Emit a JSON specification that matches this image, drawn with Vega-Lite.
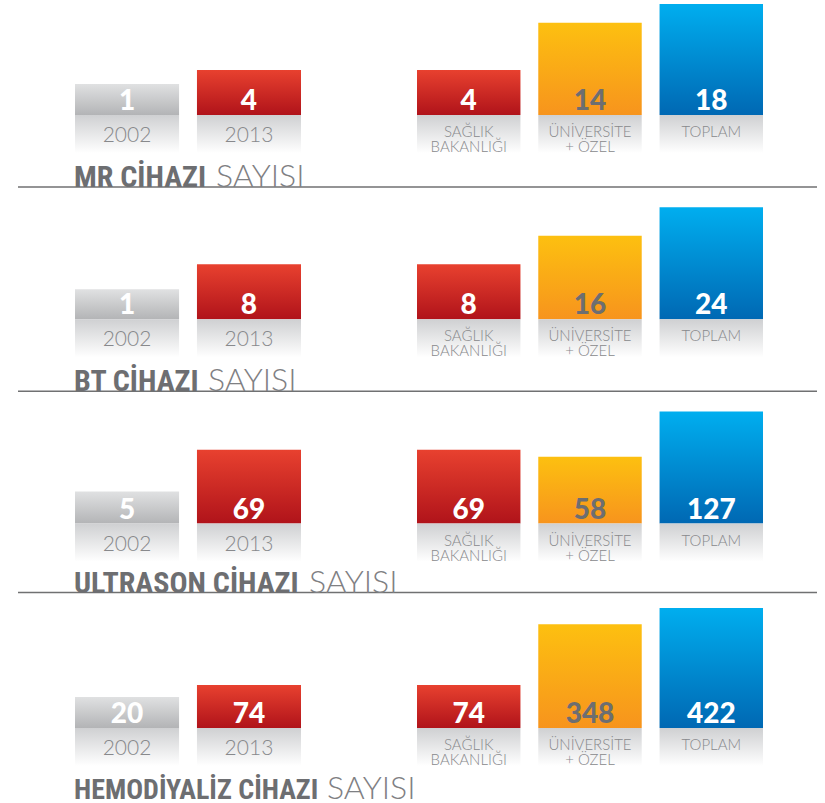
{
  "$schema": "https://vega.github.io/schema/vega-lite/v6.json",
  "padding": {"left": 17, "top": 0, "right": 0, "bottom": 0},
  "background": "white",
  "config": {"view": {"stroke": null}, "axis": {"disable": true}, "legend": {"disable": true}},
  "datasets": {
    "veri": [
      {"cihaz": "MR", "grup": "yil", "kategori": "2002", "deger": 1},
      {"cihaz": "MR", "grup": "yil", "kategori": "2013", "deger": 4},
      {"cihaz": "MR", "grup": "dagilim", "kategori": "SAĞLIK\nBAKANLIĞI", "deger": 4},
      {"cihaz": "MR", "grup": "dagilim", "kategori": "ÜNİVERSİTE\n+ ÖZEL", "deger": 14},
      {"cihaz": "MR", "grup": "dagilim", "kategori": "TOPLAM", "deger": 18},
      {"cihaz": "BT", "grup": "yil", "kategori": "2002", "deger": 1},
      {"cihaz": "BT", "grup": "yil", "kategori": "2013", "deger": 8},
      {"cihaz": "BT", "grup": "dagilim", "kategori": "SAĞLIK\nBAKANLIĞI", "deger": 8},
      {"cihaz": "BT", "grup": "dagilim", "kategori": "ÜNİVERSİTE\n+ ÖZEL", "deger": 16},
      {"cihaz": "BT", "grup": "dagilim", "kategori": "TOPLAM", "deger": 24},
      {"cihaz": "ULTRASON", "grup": "yil", "kategori": "2002", "deger": 5},
      {"cihaz": "ULTRASON", "grup": "yil", "kategori": "2013", "deger": 69},
      {"cihaz": "ULTRASON", "grup": "dagilim", "kategori": "SAĞLIK\nBAKANLIĞI", "deger": 69},
      {"cihaz": "ULTRASON", "grup": "dagilim", "kategori": "ÜNİVERSİTE\n+ ÖZEL", "deger": 58},
      {"cihaz": "ULTRASON", "grup": "dagilim", "kategori": "TOPLAM", "deger": 127},
      {"cihaz": "HEMODIYALIZ", "grup": "yil", "kategori": "2002", "deger": 20},
      {"cihaz": "HEMODIYALIZ", "grup": "yil", "kategori": "2013", "deger": 74},
      {"cihaz": "HEMODIYALIZ", "grup": "dagilim", "kategori": "SAĞLIK\nBAKANLIĞI", "deger": 74},
      {"cihaz": "HEMODIYALIZ", "grup": "dagilim", "kategori": "ÜNİVERSİTE\n+ ÖZEL", "deger": 348},
      {"cihaz": "HEMODIYALIZ", "grup": "dagilim", "kategori": "TOPLAM", "deger": 422}
    ]
  },
  "spacing": 89.3,
  "bounds": "flush",
  "vconcat": [
    {
      "width": 799, "height": 115,
      "data": {"name": "veri"},
      "transform": [{"filter": "datum.cihaz === 'MR'"}],
      "resolve": {"scale": {"x": "independent"}},
      "layer": [
        {"transform": [{"filter": "datum.kategori === '2002'"}], "mark": {"type": "rule", "color": "#707172", "strokeWidth": 1.5, "yOffset": 72}, "encoding": {"y": {"datum": -5.59}}},
        {
          "transform": [{"filter": "datum.grup === 'yil'"}],
          "encoding": {"x": {"field": "kategori", "type": "nominal", "sort": null, "axis": null, "scale": {"domain": ["2002", "2013"], "range": [57, 283], "paddingInner": 0.147, "paddingOuter": 0}}},
          "layer": [
            {"transform": [{"filter": "datum.kategori === '2002'"}], "mark": {"type": "bar", "color": {"gradient": "linear", "x1": 0, "y1": 0, "x2": 0, "y2": 1, "stops": [{"offset": 0, "color": "#e0e1e2"}, {"offset": 1, "color": "#b3b4b6"}]}}, "encoding": {"y": {"field": "deger", "type": "quantitative", "axis": null, "scale": {"domain": [-5.59, 18.85], "nice": false, "zero": false}}, "y2": {"datum": -5.59}}},
            {"transform": [{"filter": "datum.kategori === '2013'"}], "mark": {"type": "bar", "color": {"gradient": "linear", "x1": 0, "y1": 0, "x2": 0, "y2": 1, "stops": [{"offset": 0, "color": "#e8412f"}, {"offset": 1, "color": "#b0131a"}]}}, "encoding": {"y": {"field": "deger", "type": "quantitative", "axis": null, "scale": {"domain": [-5.59, 18.85], "nice": false, "zero": false}}, "y2": {"datum": -5.59}}},
            {"mark": {"type": "rect", "y2Offset": 38, "color": {"gradient": "linear", "x1": 0, "y1": 0, "x2": 0, "y2": 1, "stops": [{"offset": 0, "color": "#cfd0d2"}, {"offset": 1, "color": "#ffffff"}]}}, "encoding": {"y": {"datum": -5.59}, "y2": {"datum": -5.59}}},
            {"mark": {"type": "text", "font": "Lato", "fontWeight": 900, "fontSize": 28, "color": "#ffffff", "dy": -5, "baseline": "alphabetic", "align": "center"}, "encoding": {"y": {"datum": -5.59}, "text": {"field": "deger", "type": "quantitative"}}},
            {"mark": {"type": "text", "font": "Lato", "fontWeight": 300, "fontSize": 21, "color": "#88898c", "dy": 27, "baseline": "alphabetic", "align": "center"}, "encoding": {"y": {"datum": -5.59}, "text": {"field": "kategori"}}},
            {"transform": [{"filter": "datum.kategori === '2002'"}], "mark": {"type": "text", "text": "MR CİHAZI", "font": "Roboto Condensed, Liberation Sans", "fontWeight": "bold", "fontSize": 30, "color": "#6d6e71", "dy": 72, "dx": -1, "baseline": "alphabetic", "align": "left"}, "encoding": {"x": {"datum": "2002", "bandPosition": 0}, "y": {"datum": -5.59}}},
            {"transform": [{"filter": "datum.kategori === '2002'"}], "mark": {"type": "text", "text": "SAYISI", "font": "Lato", "fontWeight": 300, "fontSize": 32, "color": "#7f8083", "dy": 72, "dx": 141, "baseline": "alphabetic", "align": "left"}, "encoding": {"x": {"datum": "2002", "bandPosition": 0}, "y": {"datum": -5.59}}}
          ]
        },
        {
          "transform": [{"filter": "datum.grup === 'dagilim'"}],
          "encoding": {"x": {"field": "kategori", "type": "nominal", "sort": null, "axis": null, "scale": {"domain": ["SAĞLIK\nBAKANLIĞI", "ÜNİVERSİTE\n+ ÖZEL", "TOPLAM"], "range": [399, 745], "paddingInner": 0.147, "paddingOuter": 0}}},
          "layer": [
            {"transform": [{"filter": "indexof(datum.kategori, 'SA') === 0"}], "mark": {"type": "bar", "color": {"gradient": "linear", "x1": 0, "y1": 0, "x2": 0, "y2": 1, "stops": [{"offset": 0, "color": "#e8412f"}, {"offset": 1, "color": "#b0131a"}]}}, "encoding": {"y": {"field": "deger", "type": "quantitative", "axis": null, "scale": {"domain": [-5.59, 18.85], "nice": false, "zero": false}}, "y2": {"datum": -5.59}}},
            {"transform": [{"filter": "indexof(datum.kategori, 'Ü') === 0"}], "mark": {"type": "bar", "color": {"gradient": "linear", "x1": 0, "y1": 0, "x2": 0, "y2": 1, "stops": [{"offset": 0, "color": "#fdc010"}, {"offset": 1, "color": "#f7941d"}]}}, "encoding": {"y": {"field": "deger", "type": "quantitative", "axis": null, "scale": {"domain": [-5.59, 18.85], "nice": false, "zero": false}}, "y2": {"datum": -5.59}}},
            {"transform": [{"filter": "datum.kategori === 'TOPLAM'"}], "mark": {"type": "bar", "color": {"gradient": "linear", "x1": 0, "y1": 0, "x2": 0, "y2": 1, "stops": [{"offset": 0, "color": "#00aeef"}, {"offset": 1, "color": "#0068b3"}]}}, "encoding": {"y": {"field": "deger", "type": "quantitative", "axis": null, "scale": {"domain": [-5.59, 18.85], "nice": false, "zero": false}}, "y2": {"datum": -5.59}}},
            {"mark": {"type": "rect", "y2Offset": 38, "color": {"gradient": "linear", "x1": 0, "y1": 0, "x2": 0, "y2": 1, "stops": [{"offset": 0, "color": "#cfd0d2"}, {"offset": 1, "color": "#ffffff"}]}}, "encoding": {"y": {"datum": -5.59}, "y2": {"datum": -5.59}}},
            {"transform": [{"filter": "indexof(datum.kategori, 'Ü') !== 0"}], "mark": {"type": "text", "font": "Lato", "fontWeight": 900, "fontSize": 28, "color": "#ffffff", "dy": -5, "baseline": "alphabetic", "align": "center"}, "encoding": {"y": {"datum": -5.59}, "text": {"field": "deger", "type": "quantitative"}}},
            {"transform": [{"filter": "indexof(datum.kategori, 'Ü') === 0"}], "mark": {"type": "text", "font": "Lato", "fontWeight": 900, "fontSize": 28, "color": "#6d6e71", "dy": -5, "baseline": "alphabetic", "align": "center"}, "encoding": {"y": {"datum": -5.59}, "text": {"field": "deger", "type": "quantitative"}}},
            {"mark": {"type": "text", "font": "Lato", "fontWeight": 300, "fontSize": 15, "lineHeight": 15, "lineBreak": "\n", "color": "#88898c", "dy": 22, "baseline": "alphabetic", "align": "center"}, "encoding": {"y": {"datum": -5.59}, "text": {"field": "kategori"}}}
          ]
        }
      ]
    },
    {
      "width": 799, "height": 115,
      "data": {"name": "veri"},
      "transform": [{"filter": "datum.cihaz === 'BT'"}],
      "resolve": {"scale": {"x": "independent"}},
      "layer": [
        {"transform": [{"filter": "datum.kategori === '2002'"}], "mark": {"type": "rule", "color": "#707172", "strokeWidth": 1.5, "yOffset": 72}, "encoding": {"y": {"datum": -7.41}}},
        {
          "transform": [{"filter": "datum.grup === 'yil'"}],
          "encoding": {"x": {"field": "kategori", "type": "nominal", "sort": null, "axis": null, "scale": {"domain": ["2002", "2013"], "range": [57, 283], "paddingInner": 0.147, "paddingOuter": 0}}},
          "layer": [
            {"transform": [{"filter": "datum.kategori === '2002'"}], "mark": {"type": "bar", "color": {"gradient": "linear", "x1": 0, "y1": 0, "x2": 0, "y2": 1, "stops": [{"offset": 0, "color": "#e0e1e2"}, {"offset": 1, "color": "#b3b4b6"}]}}, "encoding": {"y": {"field": "deger", "type": "quantitative", "axis": null, "scale": {"domain": [-7.41, 24.85], "nice": false, "zero": false}}, "y2": {"datum": -7.41}}},
            {"transform": [{"filter": "datum.kategori === '2013'"}], "mark": {"type": "bar", "color": {"gradient": "linear", "x1": 0, "y1": 0, "x2": 0, "y2": 1, "stops": [{"offset": 0, "color": "#e8412f"}, {"offset": 1, "color": "#b0131a"}]}}, "encoding": {"y": {"field": "deger", "type": "quantitative", "axis": null, "scale": {"domain": [-7.41, 24.85], "nice": false, "zero": false}}, "y2": {"datum": -7.41}}},
            {"mark": {"type": "rect", "y2Offset": 38, "color": {"gradient": "linear", "x1": 0, "y1": 0, "x2": 0, "y2": 1, "stops": [{"offset": 0, "color": "#cfd0d2"}, {"offset": 1, "color": "#ffffff"}]}}, "encoding": {"y": {"datum": -7.41}, "y2": {"datum": -7.41}}},
            {"mark": {"type": "text", "font": "Lato", "fontWeight": 900, "fontSize": 28, "color": "#ffffff", "dy": -5, "baseline": "alphabetic", "align": "center"}, "encoding": {"y": {"datum": -7.41}, "text": {"field": "deger", "type": "quantitative"}}},
            {"mark": {"type": "text", "font": "Lato", "fontWeight": 300, "fontSize": 21, "color": "#88898c", "dy": 27, "baseline": "alphabetic", "align": "center"}, "encoding": {"y": {"datum": -7.41}, "text": {"field": "kategori"}}},
            {"transform": [{"filter": "datum.kategori === '2002'"}], "mark": {"type": "text", "text": "BT CİHAZI", "font": "Roboto Condensed, Liberation Sans", "fontWeight": "bold", "fontSize": 30, "color": "#6d6e71", "dy": 72, "dx": -1, "baseline": "alphabetic", "align": "left"}, "encoding": {"x": {"datum": "2002", "bandPosition": 0}, "y": {"datum": -7.41}}},
            {"transform": [{"filter": "datum.kategori === '2002'"}], "mark": {"type": "text", "text": "SAYISI", "font": "Lato", "fontWeight": 300, "fontSize": 32, "color": "#7f8083", "dy": 72, "dx": 133, "baseline": "alphabetic", "align": "left"}, "encoding": {"x": {"datum": "2002", "bandPosition": 0}, "y": {"datum": -7.41}}}
          ]
        },
        {
          "transform": [{"filter": "datum.grup === 'dagilim'"}],
          "encoding": {"x": {"field": "kategori", "type": "nominal", "sort": null, "axis": null, "scale": {"domain": ["SAĞLIK\nBAKANLIĞI", "ÜNİVERSİTE\n+ ÖZEL", "TOPLAM"], "range": [399, 745], "paddingInner": 0.147, "paddingOuter": 0}}},
          "layer": [
            {"transform": [{"filter": "indexof(datum.kategori, 'SA') === 0"}], "mark": {"type": "bar", "color": {"gradient": "linear", "x1": 0, "y1": 0, "x2": 0, "y2": 1, "stops": [{"offset": 0, "color": "#e8412f"}, {"offset": 1, "color": "#b0131a"}]}}, "encoding": {"y": {"field": "deger", "type": "quantitative", "axis": null, "scale": {"domain": [-7.41, 24.85], "nice": false, "zero": false}}, "y2": {"datum": -7.41}}},
            {"transform": [{"filter": "indexof(datum.kategori, 'Ü') === 0"}], "mark": {"type": "bar", "color": {"gradient": "linear", "x1": 0, "y1": 0, "x2": 0, "y2": 1, "stops": [{"offset": 0, "color": "#fdc010"}, {"offset": 1, "color": "#f7941d"}]}}, "encoding": {"y": {"field": "deger", "type": "quantitative", "axis": null, "scale": {"domain": [-7.41, 24.85], "nice": false, "zero": false}}, "y2": {"datum": -7.41}}},
            {"transform": [{"filter": "datum.kategori === 'TOPLAM'"}], "mark": {"type": "bar", "color": {"gradient": "linear", "x1": 0, "y1": 0, "x2": 0, "y2": 1, "stops": [{"offset": 0, "color": "#00aeef"}, {"offset": 1, "color": "#0068b3"}]}}, "encoding": {"y": {"field": "deger", "type": "quantitative", "axis": null, "scale": {"domain": [-7.41, 24.85], "nice": false, "zero": false}}, "y2": {"datum": -7.41}}},
            {"mark": {"type": "rect", "y2Offset": 38, "color": {"gradient": "linear", "x1": 0, "y1": 0, "x2": 0, "y2": 1, "stops": [{"offset": 0, "color": "#cfd0d2"}, {"offset": 1, "color": "#ffffff"}]}}, "encoding": {"y": {"datum": -7.41}, "y2": {"datum": -7.41}}},
            {"transform": [{"filter": "indexof(datum.kategori, 'Ü') !== 0"}], "mark": {"type": "text", "font": "Lato", "fontWeight": 900, "fontSize": 28, "color": "#ffffff", "dy": -5, "baseline": "alphabetic", "align": "center"}, "encoding": {"y": {"datum": -7.41}, "text": {"field": "deger", "type": "quantitative"}}},
            {"transform": [{"filter": "indexof(datum.kategori, 'Ü') === 0"}], "mark": {"type": "text", "font": "Lato", "fontWeight": 900, "fontSize": 28, "color": "#6d6e71", "dy": -5, "baseline": "alphabetic", "align": "center"}, "encoding": {"y": {"datum": -7.41}, "text": {"field": "deger", "type": "quantitative"}}},
            {"mark": {"type": "text", "font": "Lato", "fontWeight": 300, "fontSize": 15, "lineHeight": 15, "lineBreak": "\n", "color": "#88898c", "dy": 22, "baseline": "alphabetic", "align": "center"}, "encoding": {"y": {"datum": -7.41}, "text": {"field": "kategori"}}}
          ]
        }
      ]
    },
    {
      "width": 799, "height": 115,
      "data": {"name": "veri"},
      "transform": [{"filter": "datum.cihaz === 'ULTRASON'"}],
      "resolve": {"scale": {"x": "independent"}},
      "layer": [
        {"transform": [{"filter": "datum.kategori === '2002'"}], "mark": {"type": "rule", "color": "#707172", "strokeWidth": 1.5, "yOffset": 69}, "encoding": {"y": {"datum": -43.8}}},
        {
          "transform": [{"filter": "datum.grup === 'yil'"}],
          "encoding": {"x": {"field": "kategori", "type": "nominal", "sort": null, "axis": null, "scale": {"domain": ["2002", "2013"], "range": [57, 283], "paddingInner": 0.147, "paddingOuter": 0}}},
          "layer": [
            {"transform": [{"filter": "datum.kategori === '2002'"}], "mark": {"type": "bar", "color": {"gradient": "linear", "x1": 0, "y1": 0, "x2": 0, "y2": 1, "stops": [{"offset": 0, "color": "#e0e1e2"}, {"offset": 1, "color": "#b3b4b6"}]}}, "encoding": {"y": {"field": "deger", "type": "quantitative", "axis": null, "scale": {"domain": [-43.8, 131.6], "nice": false, "zero": false}}, "y2": {"datum": -43.8}}},
            {"transform": [{"filter": "datum.kategori === '2013'"}], "mark": {"type": "bar", "color": {"gradient": "linear", "x1": 0, "y1": 0, "x2": 0, "y2": 1, "stops": [{"offset": 0, "color": "#e8412f"}, {"offset": 1, "color": "#b0131a"}]}}, "encoding": {"y": {"field": "deger", "type": "quantitative", "axis": null, "scale": {"domain": [-43.8, 131.6], "nice": false, "zero": false}}, "y2": {"datum": -43.8}}},
            {"mark": {"type": "rect", "y2Offset": 38, "color": {"gradient": "linear", "x1": 0, "y1": 0, "x2": 0, "y2": 1, "stops": [{"offset": 0, "color": "#cfd0d2"}, {"offset": 1, "color": "#ffffff"}]}}, "encoding": {"y": {"datum": -43.8}, "y2": {"datum": -43.8}}},
            {"mark": {"type": "text", "font": "Lato", "fontWeight": 900, "fontSize": 28, "color": "#ffffff", "dy": -5, "baseline": "alphabetic", "align": "center"}, "encoding": {"y": {"datum": -43.8}, "text": {"field": "deger", "type": "quantitative"}}},
            {"mark": {"type": "text", "font": "Lato", "fontWeight": 300, "fontSize": 21, "color": "#88898c", "dy": 27, "baseline": "alphabetic", "align": "center"}, "encoding": {"y": {"datum": -43.8}, "text": {"field": "kategori"}}},
            {"transform": [{"filter": "datum.kategori === '2002'"}], "mark": {"type": "text", "text": "ULTRASON CİHAZI", "font": "Roboto Condensed, Liberation Sans", "fontWeight": "bold", "fontSize": 30, "color": "#6d6e71", "dy": 69, "dx": -1, "baseline": "alphabetic", "align": "left"}, "encoding": {"x": {"datum": "2002", "bandPosition": 0}, "y": {"datum": -43.8}}},
            {"transform": [{"filter": "datum.kategori === '2002'"}], "mark": {"type": "text", "text": "SAYISI", "font": "Lato", "fontWeight": 300, "fontSize": 32, "color": "#7f8083", "dy": 69, "dx": 234, "baseline": "alphabetic", "align": "left"}, "encoding": {"x": {"datum": "2002", "bandPosition": 0}, "y": {"datum": -43.8}}}
          ]
        },
        {
          "transform": [{"filter": "datum.grup === 'dagilim'"}],
          "encoding": {"x": {"field": "kategori", "type": "nominal", "sort": null, "axis": null, "scale": {"domain": ["SAĞLIK\nBAKANLIĞI", "ÜNİVERSİTE\n+ ÖZEL", "TOPLAM"], "range": [399, 745], "paddingInner": 0.147, "paddingOuter": 0}}},
          "layer": [
            {"transform": [{"filter": "indexof(datum.kategori, 'SA') === 0"}], "mark": {"type": "bar", "color": {"gradient": "linear", "x1": 0, "y1": 0, "x2": 0, "y2": 1, "stops": [{"offset": 0, "color": "#e8412f"}, {"offset": 1, "color": "#b0131a"}]}}, "encoding": {"y": {"field": "deger", "type": "quantitative", "axis": null, "scale": {"domain": [-43.8, 131.6], "nice": false, "zero": false}}, "y2": {"datum": -43.8}}},
            {"transform": [{"filter": "indexof(datum.kategori, 'Ü') === 0"}], "mark": {"type": "bar", "color": {"gradient": "linear", "x1": 0, "y1": 0, "x2": 0, "y2": 1, "stops": [{"offset": 0, "color": "#fdc010"}, {"offset": 1, "color": "#f7941d"}]}}, "encoding": {"y": {"field": "deger", "type": "quantitative", "axis": null, "scale": {"domain": [-43.8, 131.6], "nice": false, "zero": false}}, "y2": {"datum": -43.8}}},
            {"transform": [{"filter": "datum.kategori === 'TOPLAM'"}], "mark": {"type": "bar", "color": {"gradient": "linear", "x1": 0, "y1": 0, "x2": 0, "y2": 1, "stops": [{"offset": 0, "color": "#00aeef"}, {"offset": 1, "color": "#0068b3"}]}}, "encoding": {"y": {"field": "deger", "type": "quantitative", "axis": null, "scale": {"domain": [-43.8, 131.6], "nice": false, "zero": false}}, "y2": {"datum": -43.8}}},
            {"mark": {"type": "rect", "y2Offset": 38, "color": {"gradient": "linear", "x1": 0, "y1": 0, "x2": 0, "y2": 1, "stops": [{"offset": 0, "color": "#cfd0d2"}, {"offset": 1, "color": "#ffffff"}]}}, "encoding": {"y": {"datum": -43.8}, "y2": {"datum": -43.8}}},
            {"transform": [{"filter": "indexof(datum.kategori, 'Ü') !== 0"}], "mark": {"type": "text", "font": "Lato", "fontWeight": 900, "fontSize": 28, "color": "#ffffff", "dy": -5, "baseline": "alphabetic", "align": "center"}, "encoding": {"y": {"datum": -43.8}, "text": {"field": "deger", "type": "quantitative"}}},
            {"transform": [{"filter": "indexof(datum.kategori, 'Ü') === 0"}], "mark": {"type": "text", "font": "Lato", "fontWeight": 900, "fontSize": 28, "color": "#6d6e71", "dy": -5, "baseline": "alphabetic", "align": "center"}, "encoding": {"y": {"datum": -43.8}, "text": {"field": "deger", "type": "quantitative"}}},
            {"mark": {"type": "text", "font": "Lato", "fontWeight": 300, "fontSize": 15, "lineHeight": 15, "lineBreak": "\n", "color": "#88898c", "dy": 22, "baseline": "alphabetic", "align": "center"}, "encoding": {"y": {"datum": -43.8}, "text": {"field": "kategori"}}}
          ]
        }
      ]
    },
    {
      "width": 799, "height": 115,
      "data": {"name": "veri"},
      "transform": [{"filter": "datum.cihaz === 'HEMODIYALIZ'"}],
      "resolve": {"scale": {"x": "independent"}},
      "layer": [
        {
          "transform": [{"filter": "datum.grup === 'yil'"}],
          "encoding": {"x": {"field": "kategori", "type": "nominal", "sort": null, "axis": null, "scale": {"domain": ["2002", "2013"], "range": [57, 283], "paddingInner": 0.147, "paddingOuter": 0}}},
          "layer": [
            {"transform": [{"filter": "datum.kategori === '2002'"}], "mark": {"type": "bar", "color": {"gradient": "linear", "x1": 0, "y1": 0, "x2": 0, "y2": 1, "stops": [{"offset": 0, "color": "#e0e1e2"}, {"offset": 1, "color": "#b3b4b6"}]}}, "encoding": {"y": {"field": "deger", "type": "quantitative", "axis": null, "scale": {"domain": [-120, 399.4], "nice": false, "zero": false}}, "y2": {"datum": -120}}},
            {"transform": [{"filter": "datum.kategori === '2013'"}], "mark": {"type": "bar", "color": {"gradient": "linear", "x1": 0, "y1": 0, "x2": 0, "y2": 1, "stops": [{"offset": 0, "color": "#e8412f"}, {"offset": 1, "color": "#b0131a"}]}}, "encoding": {"y": {"field": "deger", "type": "quantitative", "axis": null, "scale": {"domain": [-120, 399.4], "nice": false, "zero": false}}, "y2": {"datum": -120}}},
            {"mark": {"type": "rect", "y2Offset": 38, "color": {"gradient": "linear", "x1": 0, "y1": 0, "x2": 0, "y2": 1, "stops": [{"offset": 0, "color": "#cfd0d2"}, {"offset": 1, "color": "#ffffff"}]}}, "encoding": {"y": {"datum": -120}, "y2": {"datum": -120}}},
            {"mark": {"type": "text", "font": "Lato", "fontWeight": 900, "fontSize": 28, "color": "#ffffff", "dy": -5, "baseline": "alphabetic", "align": "center"}, "encoding": {"y": {"datum": -120}, "text": {"field": "deger", "type": "quantitative"}}},
            {"mark": {"type": "text", "font": "Lato", "fontWeight": 300, "fontSize": 21, "color": "#88898c", "dy": 27, "baseline": "alphabetic", "align": "center"}, "encoding": {"y": {"datum": -120}, "text": {"field": "kategori"}}},
            {"transform": [{"filter": "datum.kategori === '2002'"}], "mark": {"type": "text", "text": "HEMODİYALİZ CİHAZI", "font": "Roboto Condensed, Liberation Sans", "fontWeight": "bold", "fontSize": 28, "color": "#6d6e71", "dy": 71, "dx": -1, "baseline": "alphabetic", "align": "left"}, "encoding": {"x": {"datum": "2002", "bandPosition": 0}, "y": {"datum": -120}}},
            {"transform": [{"filter": "datum.kategori === '2002'"}], "mark": {"type": "text", "text": "SAYISI", "font": "Lato", "fontWeight": 300, "fontSize": 32, "color": "#7f8083", "dy": 71, "dx": 252, "baseline": "alphabetic", "align": "left"}, "encoding": {"x": {"datum": "2002", "bandPosition": 0}, "y": {"datum": -120}}}
          ]
        },
        {
          "transform": [{"filter": "datum.grup === 'dagilim'"}],
          "encoding": {"x": {"field": "kategori", "type": "nominal", "sort": null, "axis": null, "scale": {"domain": ["SAĞLIK\nBAKANLIĞI", "ÜNİVERSİTE\n+ ÖZEL", "TOPLAM"], "range": [399, 745], "paddingInner": 0.147, "paddingOuter": 0}}},
          "layer": [
            {"transform": [{"filter": "indexof(datum.kategori, 'SA') === 0"}], "mark": {"type": "bar", "color": {"gradient": "linear", "x1": 0, "y1": 0, "x2": 0, "y2": 1, "stops": [{"offset": 0, "color": "#e8412f"}, {"offset": 1, "color": "#b0131a"}]}}, "encoding": {"y": {"field": "deger", "type": "quantitative", "axis": null, "scale": {"domain": [-120, 399.4], "nice": false, "zero": false}}, "y2": {"datum": -120}}},
            {"transform": [{"filter": "indexof(datum.kategori, 'Ü') === 0"}], "mark": {"type": "bar", "color": {"gradient": "linear", "x1": 0, "y1": 0, "x2": 0, "y2": 1, "stops": [{"offset": 0, "color": "#fdc010"}, {"offset": 1, "color": "#f7941d"}]}}, "encoding": {"y": {"field": "deger", "type": "quantitative", "axis": null, "scale": {"domain": [-120, 399.4], "nice": false, "zero": false}}, "y2": {"datum": -120}}},
            {"transform": [{"filter": "datum.kategori === 'TOPLAM'"}], "mark": {"type": "bar", "color": {"gradient": "linear", "x1": 0, "y1": 0, "x2": 0, "y2": 1, "stops": [{"offset": 0, "color": "#00aeef"}, {"offset": 1, "color": "#0068b3"}]}}, "encoding": {"y": {"field": "deger", "type": "quantitative", "axis": null, "scale": {"domain": [-120, 399.4], "nice": false, "zero": false}}, "y2": {"datum": -120}}},
            {"mark": {"type": "rect", "y2Offset": 38, "color": {"gradient": "linear", "x1": 0, "y1": 0, "x2": 0, "y2": 1, "stops": [{"offset": 0, "color": "#cfd0d2"}, {"offset": 1, "color": "#ffffff"}]}}, "encoding": {"y": {"datum": -120}, "y2": {"datum": -120}}},
            {"transform": [{"filter": "indexof(datum.kategori, 'Ü') !== 0"}], "mark": {"type": "text", "font": "Lato", "fontWeight": 900, "fontSize": 28, "color": "#ffffff", "dy": -5, "baseline": "alphabetic", "align": "center"}, "encoding": {"y": {"datum": -120}, "text": {"field": "deger", "type": "quantitative"}}},
            {"transform": [{"filter": "indexof(datum.kategori, 'Ü') === 0"}], "mark": {"type": "text", "font": "Lato", "fontWeight": 900, "fontSize": 28, "color": "#6d6e71", "dy": -5, "baseline": "alphabetic", "align": "center"}, "encoding": {"y": {"datum": -120}, "text": {"field": "deger", "type": "quantitative"}}},
            {"mark": {"type": "text", "font": "Lato", "fontWeight": 300, "fontSize": 15, "lineHeight": 15, "lineBreak": "\n", "color": "#88898c", "dy": 22, "baseline": "alphabetic", "align": "center"}, "encoding": {"y": {"datum": -120}, "text": {"field": "kategori"}}}
          ]
        }
      ]
    }
  ]
}
